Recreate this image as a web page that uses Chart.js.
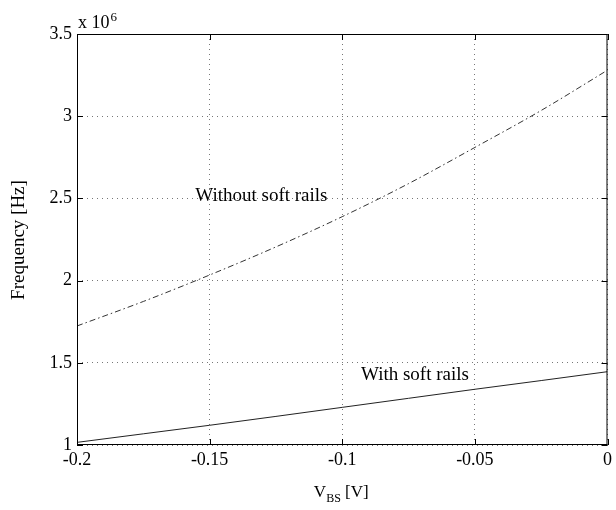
<!DOCTYPE html>
<html>
<head>
<meta charset="utf-8">
<script src="https://cdn.jsdelivr.net/npm/chart.js@4.4.1/dist/chart.umd.min.js"></script>
<style>
  html, body { margin: 0; padding: 0; background: #fff; }
  #wrap { width: 616px; height: 510px; }
</style>
</head>
<body>
<div id="wrap"><canvas id="chart" width="616" height="510"></canvas></div>
<script>
// V_BS in volts, frequencies in units of 1e6 Hz
const vbs = [-0.2, -0.175, -0.15, -0.125, -0.1, -0.075, -0.05, -0.025, 0];
const withoutSoftRails = [1.724, 1.873, 2.034, 2.205, 2.389, 2.59, 2.81, 3.035, 3.28];
const withSoftRails = [1.016, 1.068, 1.12, 1.174, 1.229, 1.284, 1.339, 1.392, 1.446];
const xTicks = [-0.2, -0.15, -0.1, -0.05, 0];
const xTickLabels = ['-0.2', '-0.15', '-0.1', '-0.05', '0'];
const yTicks = [1, 1.5, 2, 2.5, 3, 3.5];
const yTickLabels = ['1', '1.5', '2', '2.5', '3', '3.5'];

const FONT = '"Liberation Serif", "DejaVu Serif", serif';

const toPoints = (xs, ys) => xs.map((x, i) => ({ x: x, y: ys[i] }));

const frame = {
  id: 'frame',
  afterDraw(chart) {
    const ctx = chart.ctx;
    const a = chart.chartArea;
    const xs = chart.scales.x;
    const ys = chart.scales.y;
    ctx.save();
    // box
    ctx.strokeStyle = '#000';
    ctx.lineWidth = 1;
    ctx.strokeRect(a.left + 0.5, a.top + 0.5, a.right - a.left - 1, a.bottom - a.top - 1);
    // inward ticks on all sides
    ctx.beginPath();
    xTicks.forEach(v => {
      const px = Math.round(xs.getPixelForValue(v)) + 0.5;
      ctx.moveTo(px, a.bottom); ctx.lineTo(px, a.bottom - 6);
      ctx.moveTo(px, a.top); ctx.lineTo(px, a.top + 6);
    });
    yTicks.forEach(v => {
      const py = Math.round(ys.getPixelForValue(v)) + 0.5;
      ctx.moveTo(a.left, py); ctx.lineTo(a.left + 6, py);
      ctx.moveTo(a.right, py); ctx.lineTo(a.right - 6, py);
    });
    ctx.stroke();

    ctx.fillStyle = '#000';
    ctx.textBaseline = 'middle';
    ctx.textAlign = 'center';
    ctx.font = '19px ' + FONT;
    // curve annotations
    ctx.fillText('Without soft rails', xs.getPixelForValue(-0.1305), ys.getPixelForValue(2.515));
    ctx.fillText('With soft rails', xs.getPixelForValue(-0.0726), ys.getPixelForValue(1.426));

    // exponent label
    ctx.textAlign = 'left';
    ctx.textBaseline = 'alphabetic';
    ctx.font = '18px ' + FONT;
    ctx.fillText('x 10', a.left + 1, a.top - 6);
    const w = ctx.measureText('x 10').width;
    ctx.font = '13px ' + FONT;
    ctx.fillText('6', a.left + 1 + w + 1, a.top - 13);

    // x title with subscript
    ctx.font = '17px ' + FONT;
    const cx = (a.left + a.right) / 2;
    const wV = ctx.measureText('V').width;
    ctx.font = '12px ' + FONT;
    const wBS = ctx.measureText('BS').width;
    ctx.font = '17px ' + FONT;
    const wRest = ctx.measureText(' [V]').width;
    const x0 = cx - (wV + wBS + wRest) / 2 - 1;
    const base = 497;
    ctx.fillText('V', x0, base);
    ctx.font = '12px ' + FONT;
    ctx.fillText('BS', x0 + wV, base + 5);
    ctx.font = '17px ' + FONT;
    ctx.fillText(' [V]', x0 + wV + wBS, base);

    // y title
    ctx.font = '19px ' + FONT;
    ctx.translate(19, 240);
    ctx.rotate(-Math.PI / 2);
    ctx.textAlign = 'center';
    ctx.textBaseline = 'middle';
    ctx.fillText('Frequency [Hz]', 0, 0);
    ctx.restore();
  }
};

new Chart(document.getElementById('chart'), {
  type: 'line',
  data: {
    datasets: [
      {
        label: 'Without soft rails',
        data: toPoints(vbs, withoutSoftRails),
        borderColor: '#333',
        borderWidth: 1,
        borderDash: [6, 3, 1.5, 3],
        pointRadius: 0,
        fill: false,
        cubicInterpolationMode: 'monotone'
      },
      {
        label: 'With soft rails',
        data: toPoints(vbs, withSoftRails),
        borderColor: '#222',
        borderWidth: 1,
        pointRadius: 0,
        fill: false,
        cubicInterpolationMode: 'monotone'
      }
    ]
  },
  options: {
    responsive: false,
    animation: false,
    devicePixelRatio: 1,
    layout: { padding: { top: 34, right: 7, left: 0, bottom: 0 } },
    plugins: { legend: { display: false }, tooltip: { enabled: false } },
    scales: {
      x: {
        type: 'linear',
        min: -0.2,
        max: 0,
        afterBuildTicks: s => { s.ticks = xTicks.map(v => ({ value: v })); },
        afterFit: s => { s.height = 65; },
        ticks: {
          padding: 4,
          color: '#000',
          font: { family: FONT, size: 18 },
          maxRotation: 0,
          callback: (v, i) => xTickLabels[i]
        },
        grid: { color: '#777', lineWidth: 1, drawTicks: false },
        border: { display: false, dash: [1, 4] }
      },
      y: {
        type: 'linear',
        min: 1,
        max: 3.5,
        afterBuildTicks: s => { s.ticks = yTicks.map(v => ({ value: v })); },
        afterFit: s => { s.width = 77; },
        ticks: {
          padding: 5,
          color: '#000',
          font: { family: FONT, size: 18 },
          callback: (v, i) => yTickLabels[i]
        },
        grid: { color: '#777', lineWidth: 1, drawTicks: false },
        border: { display: false, dash: [1, 4] }
      }
    }
  },
  plugins: [frame]
});
</script>
</body>
</html>
